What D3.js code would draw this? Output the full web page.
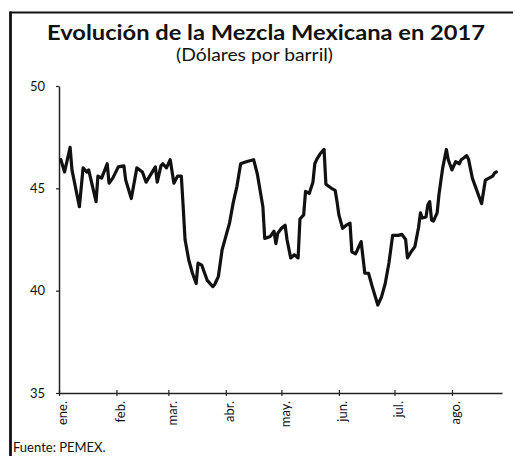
<!DOCTYPE html>
<html>
<head>
<meta charset="utf-8">
<script src="https://cdn.jsdelivr.net/npm/d3@7"></script>
<style>
  html, body { margin: 0; padding: 0; background: #fff; }
  svg { display: block; }
  text { font-family: Lato, "Open Sans", sans-serif; fill: #111; }
</style>
</head>
<body>
<svg id="chart" width="515" height="456"></svg>
<script>
// Mezcla Mexicana price, 2017 (USD per barrel)
const dates = [
  "2017-01-02","2017-01-04","2017-01-07","2017-01-08","2017-01-12","2017-01-14","2017-01-16","2017-01-17",
  "2017-01-21","2017-01-22","2017-01-24","2017-01-27","2017-01-28","2017-01-30","2017-02-02","2017-02-05",
  "2017-02-06","2017-02-09","2017-02-12","2017-02-15","2017-02-17","2017-02-22","2017-02-23","2017-02-25",
  "2017-02-26","2017-02-28","2017-03-02","2017-03-04","2017-03-06","2017-03-08","2017-03-09","2017-03-10",
  "2017-03-12","2017-03-14","2017-03-16","2017-03-17","2017-03-19","2017-03-22","2017-03-25","2017-03-26",
  "2017-03-28","2017-03-30","2017-04-01","2017-04-03","2017-04-05","2017-04-07","2017-04-09","2017-04-12",
  "2017-04-16","2017-04-18","2017-04-21","2017-04-22","2017-04-25","2017-04-27","2017-04-28","2017-04-29",
  "2017-05-01","2017-05-03","2017-05-04","2017-05-06","2017-05-08","2017-05-10","2017-05-11","2017-05-13",
  "2017-05-14","2017-05-16","2017-05-18","2017-05-19","2017-05-20","2017-05-22","2017-05-24","2017-05-25",
  "2017-05-28","2017-05-30","2017-05-31","2017-06-01","2017-06-03","2017-06-05","2017-06-07","2017-06-08",
  "2017-06-10","2017-06-13","2017-06-15","2017-06-17","2017-06-19","2017-06-22","2017-06-24","2017-06-26",
  "2017-06-28","2017-06-30","2017-07-03","2017-07-05","2017-07-07","2017-07-08","2017-07-10","2017-07-12",
  "2017-07-14","2017-07-15","2017-07-16","2017-07-18","2017-07-19","2017-07-20","2017-07-21","2017-07-22",
  "2017-07-24","2017-07-25","2017-07-27","2017-07-29","2017-07-30","2017-08-01","2017-08-03","2017-08-05",
  "2017-08-06","2017-08-09","2017-08-10","2017-08-12","2017-08-15","2017-08-17","2017-08-19","2017-08-21",
  "2017-08-23","2017-08-24","2017-08-25"
];
const prices = [
  46.4, 45.8, 47.0, 45.9, 44.1, 46.0, 45.8, 45.9,
  44.35, 45.6, 45.5, 46.2, 45.25, 45.5, 46.05, 46.1,
  45.4, 44.5, 46.0, 45.8, 45.3, 46.05, 45.3, 46.1,
  46.2, 46.0, 46.4, 45.25, 45.6, 45.6, 44.1, 42.5,
  41.5, 40.85, 40.35, 41.35, 41.25, 40.5, 40.2, 40.3,
  40.7, 42.0, 42.65, 43.3, 44.3, 45.1, 46.2, 46.3,
  46.4, 45.7, 44.1, 42.55, 42.65, 42.9, 42.3, 42.8,
  43.05, 43.2, 42.5, 41.6, 41.75, 41.6, 43.5, 43.7,
  44.85, 44.75, 45.3, 46.2, 46.4, 46.7, 46.9, 45.2,
  45.0, 44.9, 44.35, 43.7, 43.05, 43.2, 43.3, 41.9,
  41.8, 42.4, 40.85, 40.85, 40.2, 39.3, 39.7, 40.35,
  41.35, 42.7, 42.7, 42.75, 42.5, 41.6, 41.9, 42.15,
  43.1, 43.8, 43.55, 43.6, 44.2, 44.35, 43.45, 43.4,
  43.8, 44.7, 46.0, 46.9, 46.4, 45.9, 46.3, 46.2,
  46.4, 46.6, 46.4, 45.5, 44.75, 44.25, 45.4, 45.5,
  45.6, 45.75, 45.8
];
const monthStarts = ["2017-01-01","2017-02-01","2017-03-01","2017-04-01","2017-05-01","2017-06-01","2017-07-01","2017-08-01"];
const monthLabels = ["ene.","feb.","mar.","abr.","may.","jun.","jul.","ago."];
const yTicks = [35, 40, 45, 50];

const title = "Evolución de la Mezcla Mexicana en 2017";
const subtitle = "(Dólares por barril)";
const source = "Fuente: PEMEX.";

const parse = d3.utcParse("%Y-%m-%d");
const series = dates.map((d, i) => ({ date: parse(d), value: prices[i] }));

const svg = d3.select("#chart");

// Frame: top rule and left rule
svg.append("line").attr("x1", 10).attr("x2", 513).attr("y1", 12.5).attr("y2", 12.5)
  .attr("stroke", "#111").attr("stroke-width", 2.2);
svg.append("line").attr("x1", 10.5).attr("x2", 10.5).attr("y1", 11.5).attr("y2", 456)
  .attr("stroke", "#111").attr("stroke-width", 2.8);

// Titles
svg.append("text").attr("x", 47).attr("y", 40)
  .attr("textLength", 438).attr("lengthAdjust", "spacingAndGlyphs")
  .style("font-size", "21px").style("font-weight", "700").text(title);
svg.append("text").attr("x", 176).attr("y", 61)
  .attr("textLength", 157).attr("lengthAdjust", "spacingAndGlyphs")
  .style("font-size", "16.5px").text(subtitle);

// Scales
const x = d3.scaleUtc()
  .domain([parse("2017-01-01"), parse("2017-08-28")])
  .range([59, 502]);
const y = d3.scaleLinear().domain([35, 50]).range([393, 86]);

// Y axis
const yAxis = svg.append("g").attr("transform", "translate(59,0)")
  .call(d3.axisLeft(y).tickValues(yTicks).tickSize(3).tickSizeOuter(0).tickPadding(11));
yAxis.select(".domain").attr("stroke", "#222").attr("stroke-width", 1.5);
yAxis.selectAll(".tick line").attr("stroke", "#222").attr("stroke-width", 1.2);
yAxis.selectAll(".tick text").style("font-size", "13px").style("font-family", "Lato, sans-serif").attr("fill", "#111");

// X axis
const xAxis = svg.append("g").attr("transform", "translate(0,393)")
  .call(d3.axisBottom(x)
    .tickValues(monthStarts.map(parse))
    .tickFormat((d, i) => monthLabels[i])
    .tickSize(3).tickSizeOuter(0));
xAxis.select(".domain").attr("stroke", "#222").attr("stroke-width", 1.5);
xAxis.selectAll(".tick line").attr("y1", -3).attr("y2", 3).attr("stroke", "#222").attr("stroke-width", 1.2);
xAxis.selectAll(".tick text")
  .attr("transform", "translate(0,8) rotate(-90)")
  .attr("text-anchor", "end")
  .attr("x", 0).attr("y", 0).attr("dy", "0.6em")
  .style("font-size", "13px").style("font-family", "Lato, sans-serif").attr("fill", "#111");

// Price line
const line = d3.line().x(d => x(d.date)).y(d => y(d.value));
svg.append("path").datum(series)
  .attr("d", line)
  .attr("fill", "none")
  .attr("stroke", "#111")
  .attr("stroke-width", 3.2)
  .attr("stroke-linejoin", "round")
  .attr("stroke-linecap", "round");

// Source note
svg.append("text").attr("x", 13).attr("y", 452)
  .style("font-size", "13px").text(source);
</script>
</body>
</html>
